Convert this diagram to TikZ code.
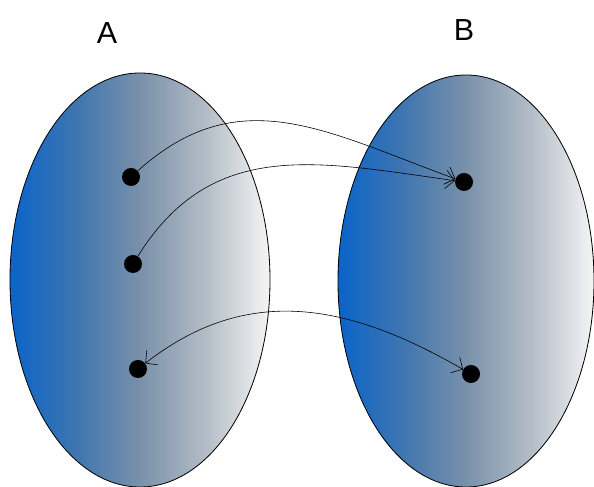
\documentclass[tikz,border=0pt]{standalone}
\usepackage{fontspec}
\setsansfont{Liberation Sans}
\usetikzlibrary{arrows.meta, shapes.geometric}
\definecolor{setfadeA}{HTML}{0A64CA}
\definecolor{setfadeB}{HTML}{3E75B0}
\definecolor{setfadeC}{HTML}{7991AA}
\definecolor{setfadeD}{HTML}{B3BCC6}
\definecolor{setfadeE}{HTML}{F5F5F5}
\pgfdeclarehorizontalshading{setfade}{100bp}{color(0bp)=(setfadeA); color(25bp)=(setfadeA);
  color(37.5bp)=(setfadeB); color(50bp)=(setfadeC); color(62.5bp)=(setfadeD);
  color(75bp)=(setfadeE); color(100bp)=(setfadeE)}

\begin{document}
\begin{tikzpicture}[
    x=0.03cm, y=0.03cm,
    setshape/.style={draw, ellipse, line width=0.7pt, shading=setfade, inner sep=0pt},
    elem/.style={circle, fill=black, minimum size=0.54cm, inner sep=0pt},
    setname/.style={font=\sffamily\fontsize{26}{30}\selectfont},
    barb/.tip={Straight Barb[length=2.6mm, width=5.5mm, line width=0.5pt]},
    maps/.style={-barb, line width=0.5pt},
]
\useasboundingbox (0,0) rectangle (594,487);

% Sets
\node[setshape, minimum width=7.8cm, minimum height=12.42cm] (setA) at (140,207) {};
\node[setshape, minimum width=7.68cm, minimum height=12.36cm] (setB) at (466,206) {};
\node[setname] (nameA) at (107,454) {A};
\node[setname] (nameB) at (464,457) {B};

% Elements
\node[elem] (a1) at (131,310) {};
\node[elem] (a2) at (133,223) {};
\node[elem] (a3) at (138,118) {};
\node[elem] (b1) at (464,305) {};
\node[elem] (b2) at (471,113) {};

% Mappings
\draw[maps] (a1) to[out=42, in=160, looseness=1.1] (b1);
\draw[maps] (a2) to[out=58, in=172, looseness=1.1] (b1);
\draw[maps, barb-barb] (a3) to[out=38, in=150, looseness=1.05] (b2);

\end{tikzpicture}
\end{document}
